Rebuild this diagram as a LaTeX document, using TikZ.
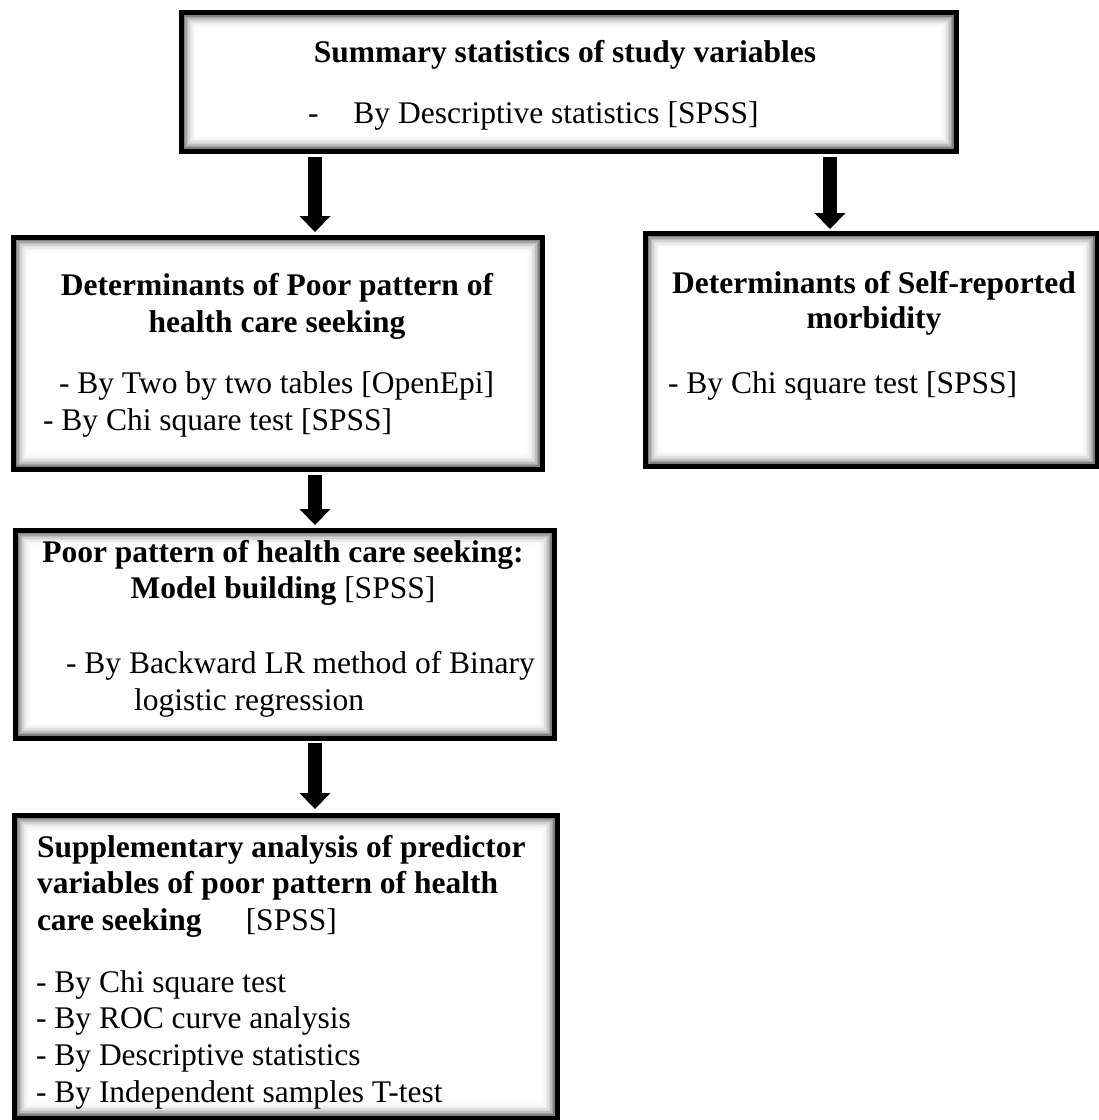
\documentclass[tikz,border=0pt]{standalone}
\usepackage{fontspec}
\setmainfont{Liberation Serif}
\usetikzlibrary{arrows.meta}
\newcommand\innershade[1]{%
  \foreach \i/\c in {3.3/50,4.8/36,6.3/26,7.8/18,9.3/12,10.8/7,12.3/4,13.8/2}{%
    \draw[black!\c,line width=1.6pt] ([shift={(\i,\i)}]#1.north west) rectangle ([shift={(-\i,-\i)}]#1.south east);}}
\begin{document}
\begin{tikzpicture}[x=1pt,y=-1pt,
  box/.style={draw,line width=5pt,fill=white,rectangle,inner sep=0pt,outer sep=0pt},
  txt/.style={inner sep=0pt,outer sep=0pt,font=\fontsize{31.5}{36.7}\selectfont},
  hd/.style={inner sep=0pt,outer sep=0pt,font=\fontsize{31.5}{36.7}\selectfont\bfseries},
  bigarrow/.style={line width=14pt,-{Triangle[length=16pt,width=31pt,line width=0pt]}}]
\fill[white] (0,0) rectangle (1099,1120);
\useasboundingbox (0,0) rectangle (1099,1120);

% boxes
\node[box,minimum width=775pt,minimum height=138.5pt] (b1) at (568.5,81.75) {};
\node[box,minimum width=529pt,minimum height=232pt] (b2) at (277.5,353) {};
\node[box,minimum width=452pt,minimum height=233pt] (b3) at (871,349.5) {};
\node[box,minimum width=539pt,minimum height=208pt] (b4) at (284.5,634) {};
\node[box,minimum width=543pt,minimum height=303pt] (b5) at (285.5,966.5) {};
\innershade{b1}
\innershade{b2}
\innershade{b3}
\innershade{b4}
\innershade{b5}

% texts
\node[hd,anchor=base] (t1a) at (565,62) {Summary statistics of study variables};
\node[txt,anchor=base west] (t1b) at (308,123) {-\hspace{35pt}By Descriptive statistics [SPSS]};

\node[hd,anchor=base] (t2a) at (277,295) {Determinants of Poor pattern of};
\node[hd,anchor=base] (t2b) at (277,332) {health care seeking};
\node[txt,anchor=base west] (t2c) at (59,393) {- By Two by two tables [OpenEpi]};
\node[txt,anchor=base west] (t2d) at (43,430) {- By Chi square test [SPSS]};

\node[hd,anchor=base] (t3a) at (874,293) {Determinants of Self-reported};
\node[hd,anchor=base] (t3b) at (874,328) {morbidity};
\node[txt,anchor=base west] (t3c) at (668,393) {- By Chi square test [SPSS]};

\node[hd,anchor=base] (t4a) at (283,562) {Poor pattern of health care seeking:};
\node[txt,anchor=base] (t4b) at (283,598) {\textbf{Model building} [SPSS]};
\node[txt,anchor=base west] (t4c) at (66,673) {- By Backward LR method of Binary};
\node[txt,anchor=base west] (t4d) at (134,710) {logistic regression};

\node[hd,anchor=base west] (t5a) at (37,857) {Supplementary analysis of predictor};
\node[hd,anchor=base west] (t5b) at (37,893) {variables of poor pattern of health};
\node[txt,anchor=base west] (t5c) at (37,930) {\textbf{care seeking}\hspace{44pt}[SPSS]};
\node[txt,anchor=base west] (t5d) at (36,992) {- By Chi square test};
\node[txt,anchor=base west] (t5e) at (36,1028) {- By ROC curve analysis};
\node[txt,anchor=base west] (t5f) at (36,1065) {- By Descriptive statistics};
\node[txt,anchor=base west] (t5g) at (36,1102) {- By Independent samples T-test};

% arrows
\coordinate (xl) at (315,0);
\coordinate (xr) at (830,0);
\draw[bigarrow,shorten <=6pt,shorten >=5pt] (b1.south -| xl) -- (b2.north -| xl);
\draw[bigarrow,shorten <=6pt,shorten >=4pt] (b1.south -| xr) -- (b3.north -| xr);
\draw[bigarrow,shorten <=6pt,shorten >=5pt] (b2.south -| xl) -- (b4.north -| xl);
\draw[bigarrow,shorten <=5pt,shorten >=6pt] (b4.south -| xl) -- (b5.north -| xl);
\end{tikzpicture}
\end{document}
